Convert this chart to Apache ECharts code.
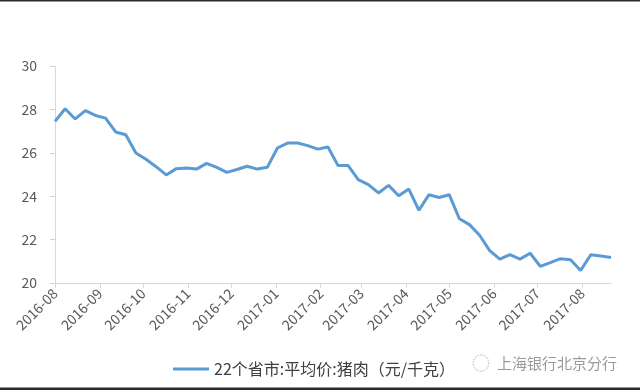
<!DOCTYPE html>
<html>
<head>
<meta charset="utf-8">
<script src="https://cdn.jsdelivr.net/npm/echarts@6/dist/echarts.min.js"></script>
<style>html,body{margin:0;padding:0;background:#fff}#c{width:640px;height:390px}</style>
</head>
<body>
<div id="c"></div>
<script>
var seriesName = '22个省市:平均价:猪肉（元/千克）';
var dates = [
 '2016-08-01','2016-08-08','2016-08-15','2016-08-22','2016-08-29',
 '2016-09-05','2016-09-12','2016-09-19','2016-09-26',
 '2016-10-03','2016-10-10','2016-10-17','2016-10-24','2016-10-31',
 '2016-11-07','2016-11-14','2016-11-21','2016-11-28',
 '2016-12-05','2016-12-12','2016-12-19','2016-12-26',
 '2017-01-02','2017-01-09','2017-01-16','2017-01-23','2017-01-30',
 '2017-02-06','2017-02-13','2017-02-20','2017-02-27',
 '2017-03-06','2017-03-13','2017-03-20','2017-03-27',
 '2017-04-03','2017-04-10','2017-04-17','2017-04-24',
 '2017-05-01','2017-05-08','2017-05-15','2017-05-22','2017-05-29',
 '2017-06-05','2017-06-12','2017-06-19','2017-06-26',
 '2017-07-03','2017-07-10','2017-07-17','2017-07-24','2017-07-31',
 '2017-08-07','2017-08-14','2017-08-21'
];
var prices = [
 27.45, 28.03, 27.56, 27.94, 27.72,
 27.60, 26.96, 26.83, 25.99,
 25.70, 25.36, 24.98, 25.27, 25.30,
 25.25, 25.51, 25.33, 25.10,
 25.23, 25.38, 25.25, 25.33,
 26.22, 26.45, 26.45, 26.33, 26.17,
 26.27, 25.41, 25.41, 24.76,
 24.53, 24.15, 24.50, 24.02,
 24.33, 23.35, 24.07, 23.94,
 24.07, 22.96, 22.69, 22.20, 21.49,
 21.10, 21.31, 21.10, 21.37,
 20.77, 20.94, 21.12, 21.07, 20.58,
 21.30, 21.24, 21.18
];
var monthTicks = ['2016-08-01','2016-09-01','2016-10-01','2016-11-01','2016-12-01',
 '2017-01-01','2017-02-01','2017-03-01','2017-04-01','2017-05-01','2017-06-01','2017-07-01','2017-08-01'];
var monthLabels = ['2016-08','2016-09','2016-10','2016-11','2016-12',
 '2017-01','2017-02','2017-03','2017-04','2017-05','2017-06','2017-07','2017-08'];
var xMin = '2016-08-01', xMax = '2017-08-21';
var yMin = 20, yMax = 30, yStep = 2;
var watermark = '上海银行北京分行';

function ts(s){ var p = s.split('-'); return Date.UTC(+p[0], +p[1]-1, +p[2]); }
var tickTimes = monthTicks.map(ts);
var chart = echarts.init(document.getElementById('c'), null, {renderer:'canvas'});
var font = '"Noto Sans CJK SC", "Noto Sans", sans-serif';
chart.setOption({
  animation: false,
  backgroundColor: '#fff',
  textStyle: {fontFamily: font},
  grid: {left: 55, right: 29, top: 66, bottom: 107, containLabel: false},
  xAxis: {
    type: 'value',
    min: ts(xMin),
    max: ts(xMax),
    axisLine: {lineStyle: {color: '#d9d9d9', width: 1}},
    axisTick: {show: true, customValues: tickTimes, length: 5, lineStyle: {color: '#d9d9d9'}},
    axisLabel: {
      customValues: tickTimes, rotate: 45, margin: 8, color: '#595959', fontSize: 14, fontFamily: font,
      showMinLabel: true, showMaxLabel: true, hideOverlap: false,
      formatter: function(v){ var i = tickTimes.indexOf(v); return i >= 0 ? monthLabels[i] : ''; }
    },
    splitLine: {show: false}
  },
  yAxis: {
    type: 'value', min: yMin, max: yMax, interval: yStep,
    axisLine: {show: true, lineStyle: {color: '#d9d9d9', width: 1}},
    axisTick: {show: true, length: 5, lineStyle: {color: '#d0d0d0'}},
    axisLabel: {color: '#595959', fontSize: 14, margin: 18, fontFamily: font},
    splitLine: {show: false}
  },
  legend: {
    show: true, left: 168, top: 356, icon: 'rect', itemWidth: 36, itemHeight: 3, itemGap: 10,
    textStyle: {color: '#404040', fontSize: 16, fontFamily: font},
    data: [seriesName]
  },
  series: [{
    name: seriesName, type: 'line',
    data: dates.map(function(d, i){ return [ts(d), prices[i]]; }),
    showSymbol: false, symbol: 'none',
    lineStyle: {color: '#5b9bd5', width: 3},
    itemStyle: {color: '#5b9bd5'}
  }],
  graphic: [
    {type: 'rect', left: 0, top: 0, shape: {width: 640, height: 1.5}, style: {fill: '#2a2a2a'}},
    {type: 'rect', left: 0, top: 387.5, shape: {width: 640, height: 2.5}, style: {fill: '#2a2a2a'}},
    {type: 'text', left: 497, top: 356, style: {text: watermark, fill: '#9a9a9a', fontSize: 15, fontFamily: font}},
    {type: 'text', left: 472, top: 354, style: {text: '◌', fill: '#bbbbbb', fontSize: 18, fontFamily: font}}
  ]
});
</script>
</body>
</html>
